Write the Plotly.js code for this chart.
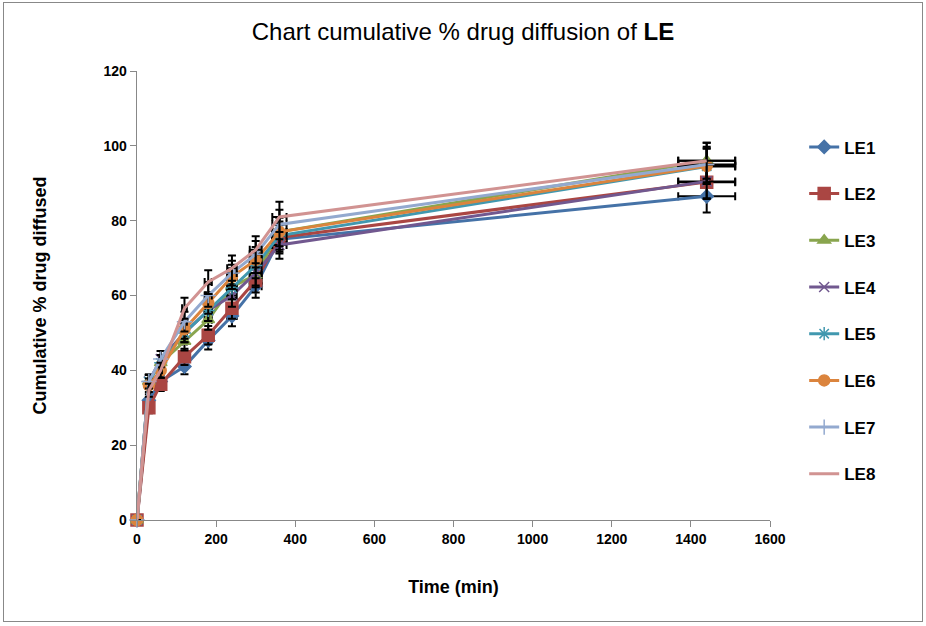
<!DOCTYPE html>
<html><head><meta charset="utf-8">
<script src="https://cdn.plot.ly/plotly-3.0.1.min.js"></script>
<style>body{margin:0;background:#fff}#frame{position:absolute;left:3px;top:2px;width:918px;height:618px;border:1px solid #888;pointer-events:none}</style>
</head><body>
<div id="chart" style="width:926px;height:626px"></div>
<div id="frame"></div>
<script>
const time = [0, 30, 60, 120, 180, 240, 300, 360, 1440];
const seriesNames = ["LE1","LE2","LE3","LE4","LE5","LE6","LE7","LE8"];
const LE1 = [0, 32, 37, 41, 48, 54.5, 62.5, 75, 86.5];
const LE2 = [0, 30, 36.3, 43.6, 49.4, 56.6, 64, 75.5, 90.3];
const LE3 = [0, 37, 42, 47.7, 53.5, 62.3, 65.5, 77, 96];
const LE4 = [0, 37, 43, 50, 56, 60, 66, 73.5, 90.5];
const LE5 = [0, 37, 42, 50, 56, 62, 68, 76, 94.5];
const LE6 = [0, 36, 40, 51, 58, 65, 69.5, 77, 94.6];
const LE7 = [0, 37, 43, 53, 60, 66, 71, 79, 95];
const LE8 = [0, 34.7, 40, 56.6, 63.6, 67.3, 72.2, 81, 96];
const values = [LE1, LE2, LE3, LE4, LE5, LE6, LE7, LE8];
const colors = ["#4572A7","#AA4643","#89A54E","#71588F","#4198AF","#DB843D","#93A9CF","#D19392"];
const symbols = ["diamond","square","triangle-up","x-thin-open","asterisk-open","circle","cross-thin-open","circle"];
const sizes = [10, 12, 11, 10, 11, 11, 11, 0];

const traces = values.map((v, i) => ({
  x: time, y: v, name: seriesNames[i], type: "scatter", mode: i === 7 ? "lines" : "lines+markers",
  legendgroup: seriesNames[i], cliponaxis: false,
  line: {color: colors[i], width: 3},
  marker: {symbol: symbols[i], size: sizes[i], color: colors[i], line: {color: colors[i], width: 1.5}},
  error_y: {type: "percent", value: 5, color: "#000", thickness: 2, width: 4},
  error_x: {type: "percent", value: 5, color: "#000", thickness: 2, width: 4}
}));

const layout = {
  width: 926, height: 626,
  margin: {l: 137, r: 156, t: 71, b: 106},
  paper_bgcolor: "#fff", plot_bgcolor: "#fff",
  font: {family: "Liberation Sans, Arial, sans-serif", color: "#000"},
  title: {text: "Chart cumulative % drug diffusion of <b>LE</b>", font: {size: 24}, x: 0.5, xanchor: "center", y: 0.95, yanchor: "middle"},
  xaxis: {range: [0, 1600], dtick: 200, tick0: 0, showgrid: false, zeroline: false, showline: true, linecolor: "#888", linewidth: 1.3,
    ticks: "outside", ticklen: 6, tickcolor: "#888", tickfont: {size: 14, weight: "bold"},
    title: {text: "<b>Time (min)</b>", font: {size: 18}, standoff: 34}},
  yaxis: {range: [0, 120], dtick: 20, tick0: 0, showgrid: false, zeroline: false, showline: true, linecolor: "#888", linewidth: 1.3,
    ticks: "outside", ticklen: 6, tickcolor: "#888", tickfont: {size: 14, weight: "bold"},
    title: {text: "<b>Cumulative % drug diffused</b>", font: {size: 18}, standoff: 52}},
  legend: {x: 1.054, xanchor: "left", y: 0.87, yanchor: "top", font: {size: 17, weight: "bold"}, tracegroupgap: 21.6, traceorder: "grouped", bgcolor: "rgba(0,0,0,0)"},
  showlegend: true
};
Plotly.newPlot("chart", traces, layout, {displayModeBar: false, staticPlot: true});
</script>
</body></html>
